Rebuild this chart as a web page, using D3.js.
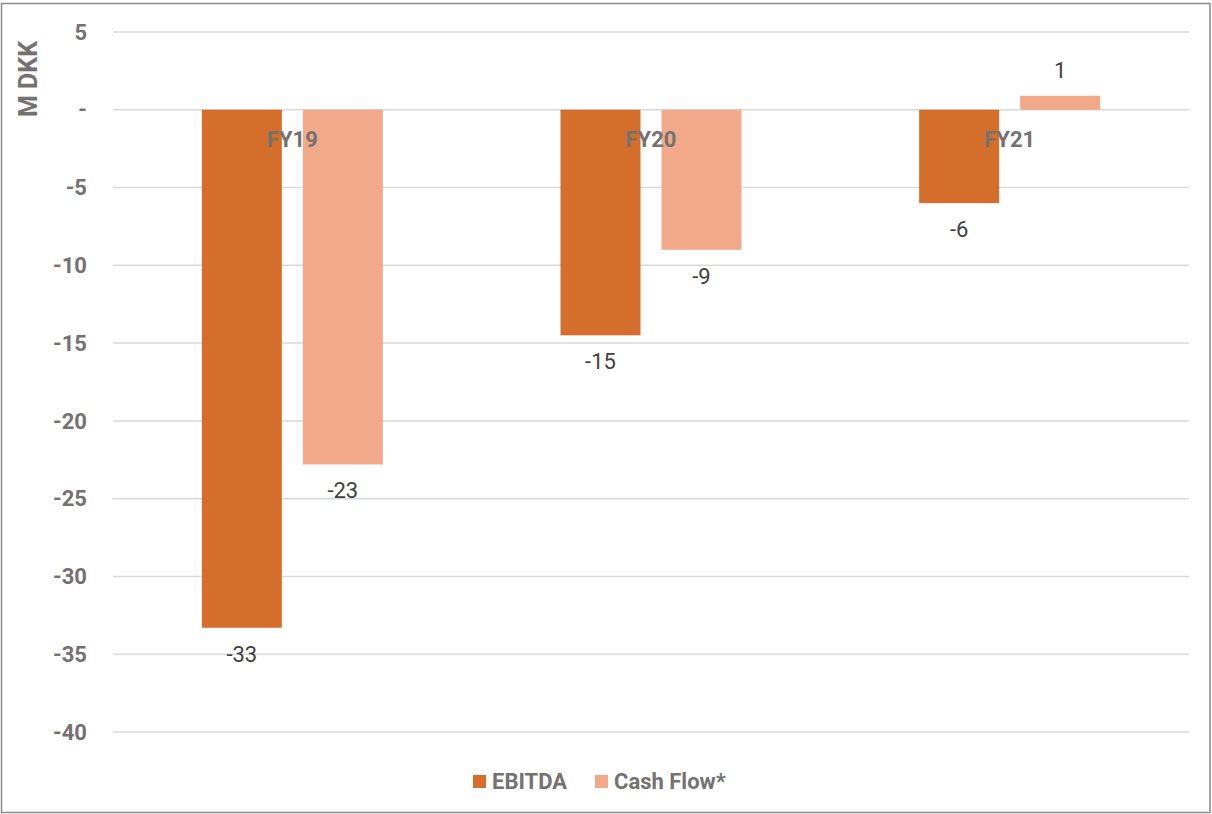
<!DOCTYPE html>
<html><head><meta charset="utf-8">
<script src="https://cdn.jsdelivr.net/npm/d3@7"></script>
<style>body{margin:0;background:#fff;} svg{display:block;}</style>
</head><body>
<script>
const categories = ["FY19", "FY20", "FY21"];
const seriesNames = ["EBITDA", "Cash Flow*"];
const ebitda = [-33.3, -14.5, -6.0];
const cashFlow = [-22.8, -9.0, 0.9];
const ebitdaLabels = ["-33", "-15", "-6"];
const cashLabels = ["-23", "-9", "1"];
const yTicks = [5, 0, -5, -10, -15, -20, -25, -30, -35, -40];
const yTickLabels = ["5", "-", "-5", "-10", "-15", "-20", "-25", "-30", "-35", "-40"];
const colors = ["#D46E2A", "#F2A98A"];

const W = 1212, H = 814;
const svg = d3.select("body").append("svg").attr("width", W).attr("height", H);
svg.append("rect").attr("x", 1.5).attr("y", 3.5).attr("width", W - 3.5).attr("height", H - 5)
  .attr("fill", "#fff").attr("stroke", "#8a8a8a").attr("stroke-width", 1.5);

const x0 = d3.scaleBand().domain(categories).range([113, 1189]).paddingInner(0).paddingOuter(0);
const y = d3.scaleLinear().domain([-40, 5]).range([732, 32]);
const groupW = 181;
const x1 = d3.scaleBand().domain(seriesNames).range([0, groupW]).paddingInner(0.208);

// gridlines
svg.append("g").selectAll("line").data(yTicks).join("line")
  .attr("x1", 113).attr("x2", 1189).attr("y1", d => y(d)).attr("y2", d => y(d))
  .attr("stroke", "#d9d9d9").attr("stroke-width", 1.5);

// y labels
svg.append("g").selectAll("text").data(yTicks).join("text")
  .attr("x", 87).attr("y", d => y(d)).attr("dy", "0.35em").attr("text-anchor", "end")
  .attr("font-family", "Roboto").attr("font-weight", "bold").attr("font-size", 22).attr("fill", "#767171")
  .text((d, i) => yTickLabels[i]);

svg.append("text").attr("transform", "translate(37,79) rotate(-90)").attr("text-anchor", "middle")
  .attr("font-family", "Roboto").attr("font-weight", "bold").attr("font-size", 25).attr("fill", "#767171")
  .text("M DKK");

const series = [ebitda, cashFlow];
const labels = [ebitdaLabels, cashLabels];
const barGroup = svg.append("g");
series.forEach((vals, s) => {
  categories.forEach((c, i) => {
    const v = vals[i];
    const bx = x0(c) + (x0.bandwidth() - groupW) / 2 + x1(seriesNames[s]);
    barGroup.append("rect").attr("x", bx).attr("width", x1.bandwidth())
      .attr("y", Math.min(y(v), y(0))).attr("height", Math.abs(y(v) - y(0)))
      .attr("fill", colors[s]);
    svg.append("text").attr("x", bx + x1.bandwidth() / 2)
      .attr("y", v < 0 ? y(v) + 34 : y(v) - 18)
      .attr("text-anchor", "middle").attr("font-family", "Roboto").attr("font-size", 22).attr("fill", "#404040")
      .text(labels[s][i]);
  });
});

// category labels
svg.append("g").selectAll("text").data(categories).join("text")
  .attr("x", d => x0(d) + x0.bandwidth() / 2).attr("y", y(0) + 37).attr("text-anchor", "middle")
  .attr("font-family", "Roboto").attr("font-weight", "bold").attr("font-size", 22).attr("fill", "#767171")
  .text(d => d);

// legend
const leg = svg.append("g");
const legItems = [{n: "EBITDA", x: 473}, {n: "Cash Flow*", x: 595}];
legItems.forEach((it, i) => {
  leg.append("rect").attr("x", it.x).attr("y", 775).attr("width", 13).attr("height", 13).attr("fill", colors[i]);
  leg.append("text").attr("x", it.x + 19).attr("y", 789)
    .attr("font-family", "Roboto").attr("font-weight", "bold").attr("font-size", 22).attr("fill", "#767171")
    .text(it.n);
});
</script>
</body></html>
